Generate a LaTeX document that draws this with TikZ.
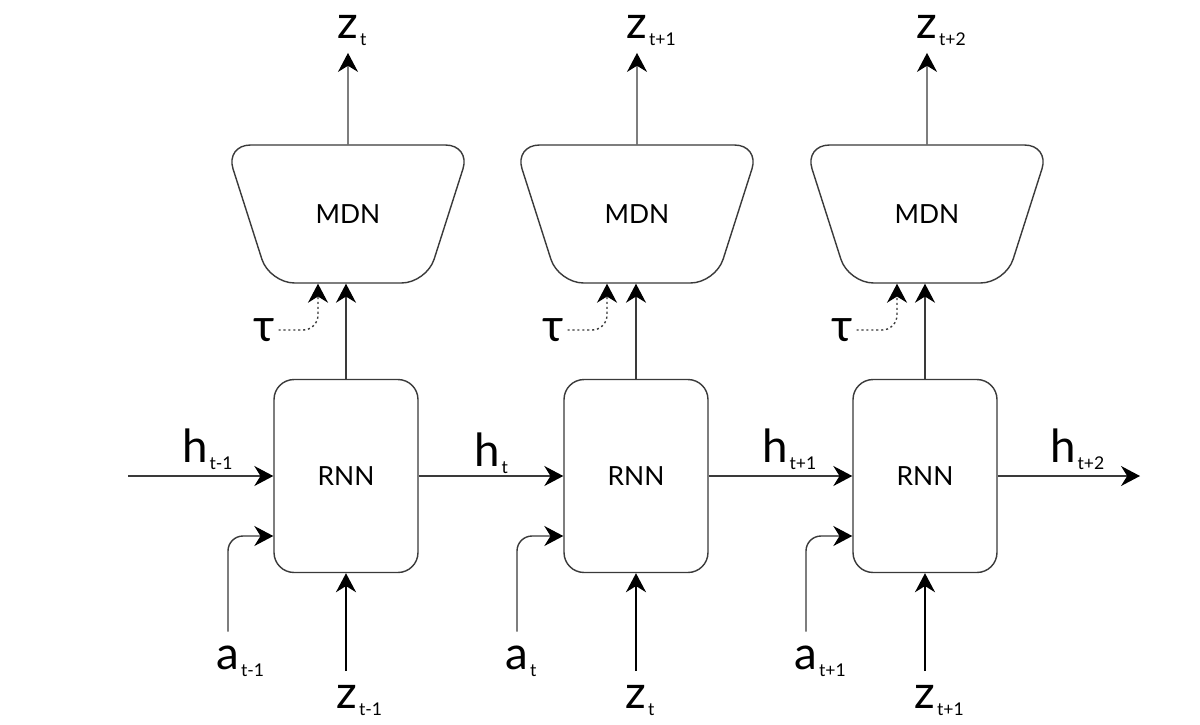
\documentclass[tikz,border=0pt]{standalone}
\usepackage{fontspec}
\setmainfont{Lato}
\usetikzlibrary{positioning,arrows.meta,calc,shapes.geometric}
\definecolor{ink}{HTML}{000000}
\definecolor{edge}{HTML}{3a3a3a}
\newcommand{\idx}[1]{\rlap{\smash{\raisebox{-4pt}{\hspace{1pt}\fontsize{10}{10}\selectfont #1}}}}

\begin{document}
\begin{tikzpicture}[x=0.02cm,y=-0.02cm,
  rnn/.style={draw=edge,line width=0.8pt,rounded corners=0.4cm,minimum width=2.88cm,minimum height=3.86cm,font=\fontsize{15}{15}\selectfont},
  mdn/.style={draw=edge,line width=0.8pt,trapezium,shape border rotate=180,trapezium stretches=true,trapezium angle=55,minimum width=4.92cm,minimum height=2.76cm,rounded corners=0.5cm,font=\fontsize{15}{15}\selectfont},
  var/.style={inner sep=0.28cm,font=\fontsize{26}{26}\selectfont},
  tauvar/.style={inner sep=2pt,font=\fontsize{26}{26}\selectfont},
  arr/.style={-{Stealth[length=3.8mm,width=4mm,color=ink]},line width=0.8pt,draw=edge},
  thk/.style={arr,line width=1.3pt,draw=ink},
  dots/.style={arr,dash pattern=on 1.2pt off 1.6pt,rounded corners=0.3cm}]
  \path[fill=white] (0,0) rectangle (1200,724);
  \useasboundingbox (0,0) rectangle (1200,724);
  % recurrent cells
  \node[rnn] (rnn1) at (346,476) {RNN};
  \node[rnn] (rnn2) at (636,476) {RNN};
  \node[rnn] (rnn3) at (925,476) {RNN};
  % mixture density heads
  \node[mdn] (mdn1) at (348,214) {MDN};
  \node[mdn] (mdn2) at (637,214) {MDN};
  \node[mdn] (mdn3) at (927,214) {MDN};
  % outputs
  \node[var] (zo1) at (348,27) {z\idx{t}};
  \node[var] (zo2) at (637,27) {z\idx{t+1}};
  \node[var] (zo3) at (927,27) {z\idx{t+2}};
  % inputs
  \node[var] (zi1) at (347,697) {z\idx{t-1}};
  \node[var] (zi2) at (636,697) {z\idx{t}};
  \node[var] (zi3) at (925,697) {z\idx{t+1}};
  \node[var] (ai1) at (228,658) {a\idx{t-1}};
  \node[var] (ai2) at (517,658) {a\idx{t}};
  \node[var] (ai3) at (806,658) {a\idx{t+1}};
  \node[tauvar] (tau1) at (264,330) {τ};
  \node[tauvar] (tau2) at (553,330) {τ};
  \node[tauvar] (tau3) at (842,330) {τ};
  % hidden state labels
  \node[var,inner sep=2pt] (hl1) at (195,446) {h\idx{t-1}};
  \node[var,inner sep=2pt] (hl2) at (487,450) {h\idx{t}};
  \node[var,inner sep=2pt] (hl3) at (775,446) {h\idx{t+1}};
  \node[var,inner sep=2pt] (hl4) at (1063,446) {h\idx{t+2}};
  \coordinate (hin) at (128,476);
  \coordinate (hout) at (1140,476);
  % hidden chain
  \draw[arr] (hin) -- (rnn1.west);
  \draw[arr] (rnn1.east) -- (rnn2.west);
  \draw[arr] (rnn2.east) -- (rnn3.west);
  \draw[arr] (rnn3.east) -- (hout);
  % actions
  \draw[arr,rounded corners=0.3cm] (ai1.north) |- ($(rnn1.west)+(0,60)$);
  \draw[arr,rounded corners=0.3cm] (ai2.north) |- ($(rnn2.west)+(0,60)$);
  \draw[arr,rounded corners=0.3cm] (ai3.north) |- ($(rnn3.west)+(0,60)$);
  % latents in
  \draw[thk] (rnn1.south |- zi1.north) -- (rnn1.south);
  \draw[thk] (rnn2.south |- zi2.north) -- (rnn2.south);
  \draw[thk] (rnn3.south |- zi3.north) -- (rnn3.south);
  % rnn to mdn
  \draw[arr] (rnn1.north) -- (rnn1.north |- mdn1.south);
  \draw[arr] (rnn2.north) -- (rnn2.north |- mdn2.south);
  \draw[arr] (rnn3.north) -- (rnn3.north |- mdn3.south);
  \draw[dots] (tau1.east) -| ($(mdn1.south)+(-30,0)$);
  \draw[dots] (tau2.east) -| ($(mdn2.south)+(-30,0)$);
  \draw[dots] (tau3.east) -| ($(mdn3.south)+(-30,0)$);
  % outputs
  \draw[arr] (mdn1.north) -- (zo1.south);
  \draw[arr] (mdn2.north) -- (zo2.south);
  \draw[arr] (mdn3.north) -- (zo3.south);
\end{tikzpicture}
\end{document}
